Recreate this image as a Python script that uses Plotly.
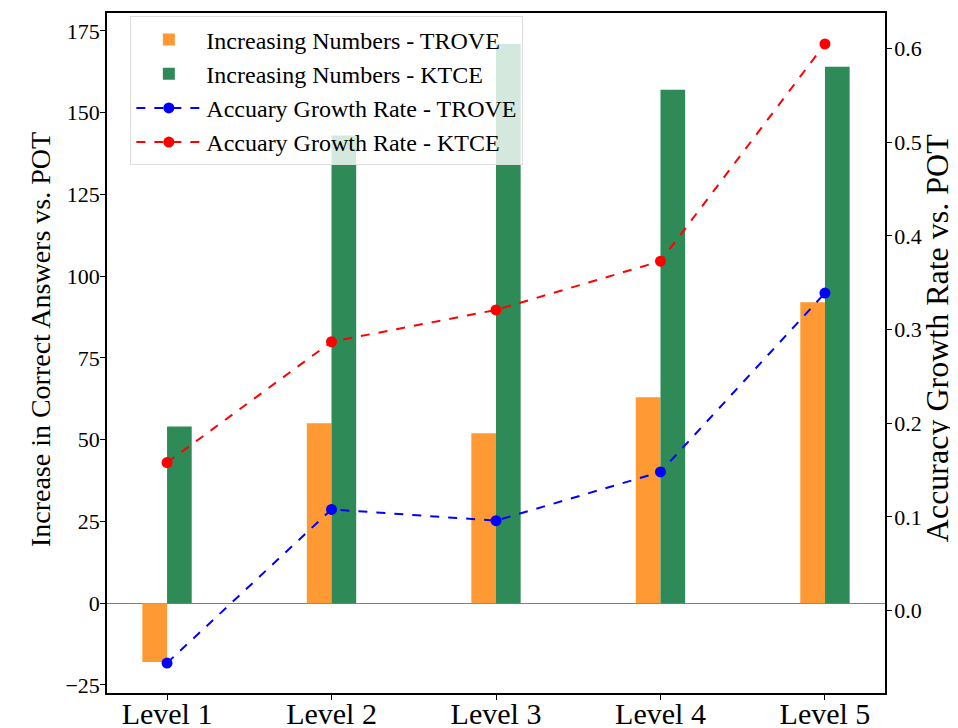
import plotly.graph_objects as go

levels = ["Level 1", "Level 2", "Level 3", "Level 4", "Level 5"]
inc_trove = [-18, 55, 52, 63, 92]
inc_ktce = [54, 143, 171, 157, 164]
rate_trove = [-0.056, 0.108, 0.096, 0.148, 0.339]
rate_ktce = [0.158, 0.287, 0.321, 0.373, 0.605]
left_title = "Increase in Correct Answers vs. POT"
right_title = "Accuracy Growth Rate vs. POT"

FONT = "Liberation Serif, Times New Roman, serif"
ORANGE = "#FF9933"
GREEN = "#2E8B57"

fig = go.Figure()
fig.add_trace(go.Bar(x=levels, y=inc_trove, name="Increasing Numbers - TROVE",
                     marker=dict(color=ORANGE, line=dict(width=0)), legendgroup="a"))
fig.add_trace(go.Bar(x=levels, y=inc_ktce, name="Increasing Numbers - KTCE",
                     marker=dict(color=GREEN, line=dict(width=0)), legendgroup="b"))
fig.add_trace(go.Scatter(x=levels, y=rate_trove, name="Accuary Growth Rate - TROVE",
                         mode="lines+markers", yaxis="y2", legendgroup="c",
                         line=dict(color="blue", dash="dash", width=2),
                         marker=dict(color="blue", size=11)))
fig.add_trace(go.Scatter(x=levels, y=rate_ktce, name="Accuary Growth Rate - KTCE",
                         mode="lines+markers", yaxis="y2", legendgroup="d",
                         line=dict(color="red", dash="dash", width=2),
                         marker=dict(color="red", size=11)))

fig.add_annotation(text=left_title, textangle=-90, xref="paper", yref="paper",
                   x=-0.0861, y=0.519, xanchor="center", yanchor="middle",
                   showarrow=False, font=dict(family=FONT, size=28, color="black"))
fig.add_annotation(text=right_title, textangle=-90, xref="paper", yref="paper",
                   x=1.067, y=0.522, xanchor="center", yanchor="middle",
                   showarrow=False, font=dict(family=FONT, size=32, color="black"))

fig.update_layout(
    width=958, height=728,
    margin=dict(l=99, r=81, t=5, b=43, autoexpand=False),
    paper_bgcolor="white", plot_bgcolor="white",
    font=dict(family=FONT, color="black", size=22),
    barmode="group", bargap=0.7, bargroupgap=0,
    showlegend=True,
    legend=dict(x=0.03, y=0.995, xanchor="left", yanchor="top",
                bgcolor="rgba(255,255,255,0.8)", bordercolor="#dddddd", borderwidth=1,
                font=dict(family=FONT, size=24), tracegroupgap=0, itemwidth=65,
                traceorder="normal"),
    xaxis=dict(range=[-0.365, 4.365], showline=True, linecolor="black", linewidth=1.5,
               mirror=True, ticks="outside", ticklen=5, tickcolor="black",
               tickfont=dict(size=30), showgrid=False, zeroline=False, automargin=False,
               ticklabelstandoff=-12),
    yaxis=dict(range=[-27.45, 180.45], tickvals=[-25, 0, 25, 50, 75, 100, 125, 150, 175],
               showline=True, linecolor="black", linewidth=1.5,
               ticks="outside", ticklen=5, tickcolor="black", showgrid=False,
               zeroline=True, zerolinecolor="gray", zerolinewidth=1, automargin=False,
               ticklabelstandoff=-4, tickfont=dict(size=22)),
    yaxis2=dict(range=[-0.088, 0.638], overlaying="y", side="right",
                tickvals=[0.0, 0.1, 0.2, 0.3, 0.4, 0.5, 0.6], tickformat=".1f",
                showline=True, linecolor="black", linewidth=1.5,
                ticks="outside", ticklen=5, tickcolor="black", showgrid=False,
                zeroline=False, automargin=False, ticklabelstandoff=-2,
                tickfont=dict(size=22)),
)

fig.write_html("out.html")
